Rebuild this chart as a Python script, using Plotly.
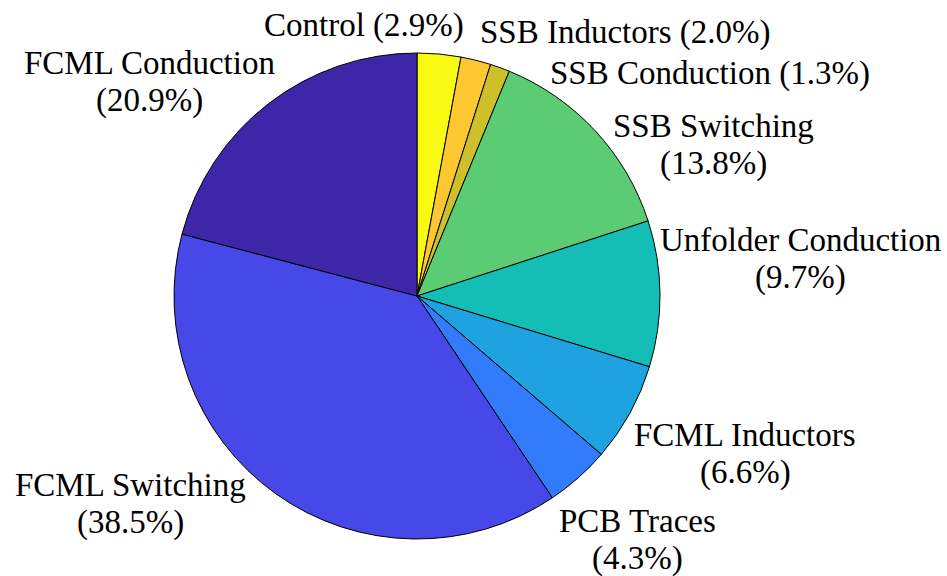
import plotly.graph_objects as go

# Loss breakdown, listed clockwise from 12 o'clock
categories = [
    "Control", "SSB Inductors", "SSB Conduction", "SSB Switching",
    "Unfolder Conduction", "FCML Inductors", "PCB Traces",
    "FCML Switching", "FCML Conduction",
]
shares = [2.9, 2.0, 1.3, 13.8, 9.7, 6.6, 4.3, 38.5, 20.9]

# parula-like slice colours
colors = [
    "#f8fa12", "#fdc72f", "#cdc02b", "#5ccc74", "#14bdb5",
    "#1ea3e0", "#327bfb", "#4649e8", "#3d26a8",
]

W, H = 947, 576
CX, CY, R = 417, 296, 243  # pie centre and radius in pixels

# Label placement: (anchor x px, first line centre y px, x anchor, split into two lines)
label_layout = [
    (364, 26, "center", False),
    (478, 33, "left", False),
    (548, 73, "left", False),
    (713, 126, "center", True),
    (800, 240, "center", True),
    (745, 435, "center", True),
    (637, 521, "center", True),
    (130, 485, "center", True),
    (149, 63, "center", True),
]
LINE_GAP = 37.5
SERIF = "Times New Roman"

fig = go.Figure(
    go.Pie(
        labels=categories,
        values=shares,
        sort=False,
        direction="clockwise",
        rotation=0,
        marker=dict(colors=colors, line=dict(color="black", width=1)),
        textinfo="none",
        hovertemplate="%{label}: %{value}%<extra></extra>",
        domain=dict(
            x=[(CX - R) / W, (CX + R) / W],
            y=[1 - (CY + R) / H, 1 - (CY - R) / H],
        ),
        showlegend=False,
    )
)

for name, val, (px, py, anchor, two_lines) in zip(categories, shares, label_layout):
    pct = f"({val:.1f}%)"
    lines = [name, pct] if two_lines else [f"{name} {pct}"]
    for i, line in enumerate(lines):
        fig.add_annotation(
            x=px / W, y=1 - (py + i * LINE_GAP) / H,
            xref="paper", yref="paper",
            text=line, showarrow=False,
            xanchor=anchor, yanchor="middle",
            font=dict(family=SERIF, size=33, color="black"),
        )

fig.update_layout(
    width=W, height=H,
    margin=dict(l=0, r=0, t=0, b=0),
    paper_bgcolor="white",
    plot_bgcolor="white",
)

fig.write_html("out.html")
